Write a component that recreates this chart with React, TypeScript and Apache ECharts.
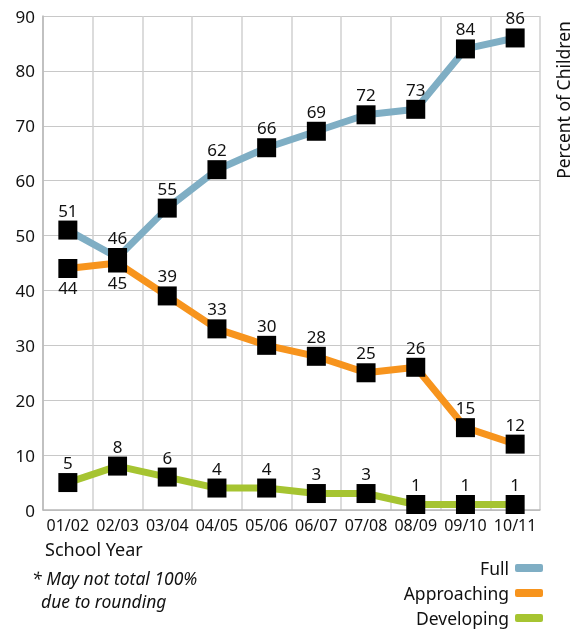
import React, { useEffect, useRef } from "react";
import * as echarts from "echarts";

const years = ["01/02", "02/03", "03/04", "04/05", "05/06", "06/07", "07/08", "08/09", "09/10", "10/11"];
const full = [51, 46, 55, 62, 66, 69, 72, 73, 84, 86];
const approaching = [44, 45, 39, 33, 30, 28, 25, 26, 15, 12];
const developing = [5, 8, 6, 4, 4, 3, 3, 1, 1, 1];
const approachingBelow = [0, 1]; // indices with labels under the marker
const legendNames = ["Full", "Approaching", "Developing"];

const FONT = "'Noto Sans', sans-serif";
const COLORS: Record<string, string> = { Full: "#7FAEC4", Approaching: "#F7941D", Developing: "#A6C431" };

export default function App() {
  const ref = useRef<HTMLDivElement>(null);
  useEffect(() => {
    if (!ref.current) return;
    const chart = echarts.init(ref.current, undefined, { renderer: "svg" });
    const lbl = { show: true, position: "top", distance: 2, color: "#111", fontSize: 17, fontFamily: FONT };
    const mk = (name: string, data: number[], below: number[] = []) => ({
      name,
      type: "line",
      data: data.map((v, i) =>
        below.includes(i)
          ? { value: v, label: { position: "bottom", distance: 1 } }
          : v
      ),
      symbol: "rect",
      symbolSize: 19,
      itemStyle: { color: "#000" },
      lineStyle: { color: COLORS[name], width: 7 },
      label: lbl,
      z: 2,
    });
    chart.setOption({
      animation: false,
      textStyle: { fontFamily: FONT },
      grid: { left: 43, right: 40, top: 16, bottom: 121 },
      xAxis: {
        type: "category",
        data: years,
        boundaryGap: true,
        axisTick: { show: false },
        axisLine: { lineStyle: { color: "#b8b8b8", width: 1.5 } },
        splitLine: { show: true, lineStyle: { color: "#d0d0d0", width: 1.5 } },
        axisLabel: { color: "#111", fontSize: 16, fontFamily: FONT, margin: 7, interval: 0 },
      },
      yAxis: {
        type: "value",
        min: 0,
        max: 90,
        interval: 10,
        axisLine: { show: true, lineStyle: { color: "#b8b8b8", width: 1.5 } },
        axisTick: { show: false },
        splitLine: { lineStyle: { color: "#c8c8c8", width: 1.2 } },
        axisLabel: { color: "#111", fontSize: 17, fontFamily: FONT, margin: 8 },
      },
      legend: legendNames.map((n, i) => ({
        orient: "vertical",
        right: 37,
        top: 559 + i * 25,
        padding: 0,
        align: "right",
        icon: "roundRect",
        itemWidth: 28,
        itemHeight: 8,
        selectedMode: false,
        textStyle: { color: "#111", fontSize: 17.5, fontFamily: FONT, lineHeight: 18, padding: [0, 1, 0, 0] },
        data: [{ name: n, itemStyle: { color: COLORS[n] } }],
      })),
      graphic: [
        {
          type: "text",
          x: 563,
          y: 100,
          rotation: Math.PI / 2,
          style: {
            text: "Percent of Children",
            fill: "#111",
            font: `17.5px ${FONT}`,
            align: "center",
            verticalAlign: "middle",
          },
        },
        {
          type: "text",
          left: 45,
          top: 540,
          style: { text: "School Year", fill: "#111", font: `18px ${FONT}` },
        },
        {
          type: "text",
          left: 32,
          top: 566,
          style: {
            text: "* May not total 100%\n  due to rounding",
            fill: "#111",
            font: `italic 17.5px ${FONT}`,
            lineHeight: 23,
          },
        },
      ],
      series: [
        mk("Developing", developing),
        mk("Approaching", approaching, approachingBelow),
        mk("Full", full),
      ],
    });
    return () => chart.dispose();
  }, []);
  return <div ref={ref} style={{ position: "fixed", left: 0, top: 0, width: 580, height: 631 }} />;
}
